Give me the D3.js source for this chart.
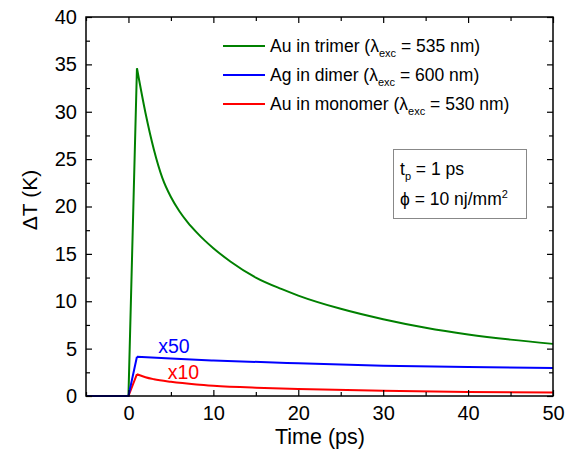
<!DOCTYPE html>
<html>
<head>
<meta charset="utf-8">
<script src="https://cdn.jsdelivr.net/npm/d3@7"></script>
<style>
body { margin: 0; background: #fff; }
text { font-family: "Liberation Sans", Arial, sans-serif; fill: #000; }
</style>
</head>
<body>
<script>
// time (ps) and temperature rise (K)
var greenTime = [-5, 0, 1, 2, 3, 4, 5, 6, 7, 8, 9, 10, 12, 15, 18, 20, 25, 30, 35, 40, 45, 50];
var greenDT   = [0, 0, 34.6, 29.9, 26.0, 23.0, 21.0, 19.5, 18.3, 17.3, 16.4, 15.6, 14.2, 12.5, 11.3, 10.6, 9.2, 8.1, 7.2, 6.5, 5.95, 5.5];
var greenBaseTime = [0, 5];
var greenBaseDT   = [0, 0];

var blueTime = [-5, 0, 1, 5, 10, 20, 30, 40, 50];
var blueDT   = [0, 0, 4.15, 3.95, 3.75, 3.45, 3.2, 3.05, 2.95];

var redTime = [-5, 0, 1, 2, 3, 5, 8, 10, 15, 20, 30, 40, 50];
var redDT   = [0, 0, 2.3, 1.98, 1.77, 1.5, 1.22, 1.09, 0.88, 0.74, 0.55, 0.43, 0.36];

var xTicks = [0, 10, 20, 30, 40, 50];
var yTicks = [0, 5, 10, 15, 20, 25, 30, 35, 40];

var legendNames = ["Au in trimer", "Ag in dimer", "Au in monomer"];
var legendLambda = ["535", "600", "530"];
var colors = ["#008000", "#0000ff", "#ff0000"];

var width = 577, height = 453;
var margin = {left: 86, right: 24, top: 17, bottom: 57};

var svg = d3.select("body").append("svg")
    .attr("width", width)
    .attr("height", height);

var x = d3.scaleLinear().domain([-5, 50]).range([margin.left, width - margin.right]);
var y = d3.scaleLinear().domain([0, 40]).range([height - margin.bottom, margin.top]);

function zip(a, b){
    return a.map(function(d, i){ return [d, b[i]]; });
}

var riseLine = d3.line()
    .x(function(d){ return x(d[0]); })
    .y(function(d){ return y(d[1]); });
var decayLine = d3.line()
    .curve(d3.curveMonotoneX)
    .x(function(d){ return x(d[0]); })
    .y(function(d){ return y(d[1]); });

//each curve: straight rise up to the peak at 1 ps, smooth decay after it
function curvePath(pts){
    var rise = pts.filter(function(p){ return p[0] <= 1; });
    var decay = pts.filter(function(p){ return p[0] >= 1; });
    return riseLine(rise) + (decay.length > 1 ? decayLine(decay) : "");
}

var series = [
    {pts: zip(greenTime, greenDT), c: colors[0]},
    {pts: zip(greenBaseTime, greenBaseDT), c: colors[0]},
    {pts: zip(redTime, redDT), c: colors[2]},
    {pts: zip(blueTime, blueDT), c: colors[1]}
];
svg.selectAll(".curve")
    .data(series)
    .enter()
    .append("path")
    .attr("class", "curve")
    .attr("d", function(d){ return curvePath(d.pts); })
    .attr("fill", "none")
    .attr("stroke", function(d){ return d.c; })
    .attr("stroke-width", 2);

//axes, ticks inward
var xMinor = d3.range(-5, 51, 5).filter(function(v){ return v % 10 != 0; });
var yMinor = d3.range(2.5, 40, 5);

function addAxis(axisGen, tr){
    var g = svg.append("g").attr("transform", tr).call(axisGen);
    g.select(".domain").remove();
    g.selectAll("line").attr("stroke", "#000").attr("stroke-width", 1.2);
    g.selectAll("text").style("font-size", "20px");
    return g;
}
var bottomY = height - margin.bottom, topY = margin.top;
var leftX = margin.left, rightX = width - margin.right;

addAxis(d3.axisBottom(x).tickValues(xTicks).tickSize(-6).tickPadding(10), "translate(0," + bottomY + ")");
addAxis(d3.axisBottom(x).tickValues(xMinor).tickSize(-4).tickFormat(""), "translate(0," + bottomY + ")");
addAxis(d3.axisTop(x).tickValues(xTicks).tickSize(-6).tickFormat(""), "translate(0," + topY + ")");
addAxis(d3.axisTop(x).tickValues(xMinor).tickSize(-4).tickFormat(""), "translate(0," + topY + ")");
addAxis(d3.axisLeft(y).tickValues(yTicks).tickSize(-6).tickPadding(9), "translate(" + leftX + ",0)");
addAxis(d3.axisLeft(y).tickValues(yMinor).tickSize(-4).tickFormat(""), "translate(" + leftX + ",0)");
addAxis(d3.axisRight(y).tickValues(yTicks).tickSize(-6).tickFormat(""), "translate(" + rightX + ",0)");
addAxis(d3.axisRight(y).tickValues(yMinor).tickSize(-4).tickFormat(""), "translate(" + rightX + ",0)");

svg.append("rect")
    .attr("x", leftX).attr("y", topY)
    .attr("width", rightX - leftX).attr("height", bottomY - topY)
    .attr("fill", "none").attr("stroke", "#000").attr("stroke-width", 1.5);

//axis titles
svg.append("text")
    .attr("x", 320).attr("y", 444)
    .attr("text-anchor", "middle").style("font-size", "21.5px")
    .text("Time (ps)");
svg.append("text")
    .attr("transform", "translate(37,200) rotate(-90)")
    .attr("text-anchor", "middle").style("font-size", "21px")
    .text("\u0394T (K)");

//curve annotations
svg.append("text").attr("x", x(3.5)).attr("y", y(4.54))
    .style("fill", colors[1]).style("font-size", "19.5px").text("x50");
svg.append("text").attr("x", x(4.63)).attr("y", y(1.79))
    .style("fill", colors[2]).style("font-size", "19.5px").text("x10");

//legend
var legend = svg.selectAll(".legend")
    .data(legendNames)
    .enter()
    .append("g")
    .attr("class", "legend")
    .attr("transform", function(d, i){ return "translate(223," + (46 + i * 29) + ")"; });
legend.append("line")
    .attr("x1", 0).attr("x2", 42)
    .attr("stroke", function(d, i){ return colors[i]; })
    .attr("stroke-width", 2);
var lt = legend.append("text")
    .attr("x", 47).attr("y", 6)
    .style("font-size", "17.5px");
lt.append("tspan").text(function(d){ return d + " (\u03bb"; });
lt.append("tspan").attr("dy", 5).style("font-size", "11px").text("exc");
lt.append("tspan").attr("dy", -5).text(function(d, i){ return " = " + legendLambda[i] + " nm)"; });

//parameter box
svg.append("rect")
    .attr("x", 393.5).attr("y", 149.5)
    .attr("width", 133).attr("height", 69)
    .attr("fill", "#fff").attr("stroke", "#888").attr("stroke-width", 1);
var t1 = svg.append("text").attr("x", 400).attr("y", 175).style("font-size", "17.5px");
t1.append("tspan").text("t");
t1.append("tspan").attr("dy", 5).style("font-size", "11px").text("p");
t1.append("tspan").attr("dy", -5).text(" = 1 ps");
var t2 = svg.append("text").attr("x", 400).attr("y", 205).style("font-size", "17.5px");
t2.append("tspan").text("\u03d5 = 10 nj/mm");
t2.append("tspan").attr("dy", -7).style("font-size", "11px").text("2");
</script>
</body>
</html>
